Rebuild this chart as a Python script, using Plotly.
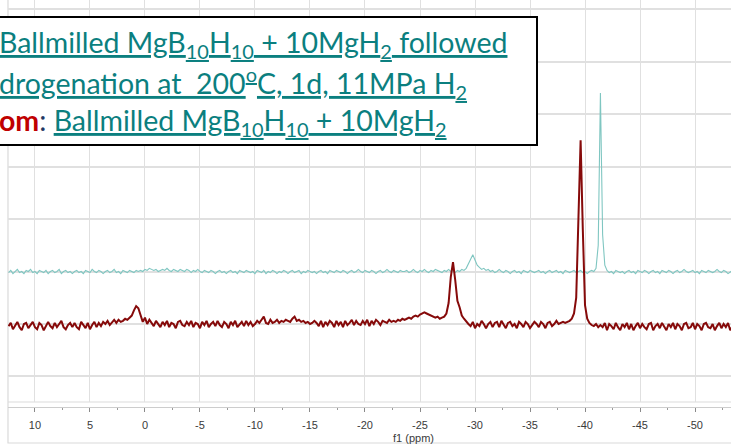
import numpy as np
import plotly.graph_objects as go

# Chemical-shift axis: samples every 0.2 ppm from 12.4 down to -53.4 ppm
ppm = np.round(np.arange(330) * -0.2 + 12.4, 2)

# Top spectrum (after hydrogenation), arbitrary intensity units
top_spectrum = [
    99, 101, 98, 100, 102, 99, 100, 98, 101, 100,
    102, 99, 100, 98, 101, 100, 99, 101, 98, 100,
    101, 99, 100, 102, 98, 100, 101, 99, 100, 98,
    100, 101, 99, 100, 98, 101, 100, 99, 102, 100,
    99, 101, 100, 98, 100, 101, 99, 100, 102, 99,
    100, 98, 101, 100, 99, 101, 100, 99, 101, 100,
    101, 100, 102, 101, 103, 102, 101, 102, 100, 101,
    102, 101, 103, 101, 100, 102, 101, 100, 102, 101,
    100, 102, 101, 99, 101, 100, 102, 100, 99, 101,
    100, 99, 101, 100, 98, 100, 101, 99, 100, 98,
    100, 101, 99, 100, 98, 101, 100, 99, 101, 100,
    99, 100, 98, 101, 100, 99, 101, 98, 100, 99,
    101, 100, 98, 100, 99, 101, 100, 98, 100, 101,
    99, 100, 101, 98, 100, 99, 101, 100, 99, 100,
    98, 100, 101, 99, 100, 98, 101, 100, 99, 101,
    100, 99, 101, 100, 98, 100, 101, 99, 100, 102,
    100, 99, 101, 100, 99, 101, 100, 98, 100, 101,
    99, 100, 102, 100, 99, 101, 100, 99, 101, 100,
    100, 101, 99, 100, 102, 100, 99, 101, 100, 102,
    100, 99, 101, 100, 102, 101, 100, 99, 101, 100,
    102, 100, 101, 99, 101, 100, 102, 101, 103, 107,
    112, 116, 111, 106, 104, 102, 103, 101, 102, 100,
    101, 99, 100, 102, 100, 99, 101, 100, 98, 100,
    101, 99, 100, 98, 101, 100, 99, 101, 100, 99,
    100, 101, 99, 100, 98, 100, 101, 99, 100, 101,
    99, 100, 98, 101, 100, 99, 100, 101, 99, 100,
    101, 99, 100, 98, 100, 101, 100, 103, 125, 270,
    135, 106, 101, 99, 100, 98, 101, 100, 99, 100,
    98, 100, 101, 99, 100, 98, 101, 100, 99, 101,
    100, 98, 100, 101, 99, 100, 98, 101, 100, 99,
    101, 100, 98, 100, 101, 99, 100, 102, 100, 99,
    100, 101, 99, 100, 98, 101, 100, 99, 101, 100,
    99, 100, 102, 100, 99, 101, 100, 98, 100, 101,
]

# Bottom spectrum (as ball-milled), arbitrary intensity units
bottom_spectrum = [
    48, 51, 45, 49, 52, 47, 44, 50, 51, 46,
    49, 52, 47, 45, 51, 49, 44, 48, 52, 48,
    46, 51, 47, 50, 53, 47, 45, 49, 51, 47,
    51, 47, 45, 52, 49, 46, 51, 45, 49, 52,
    47, 51, 48, 52, 50, 53, 49, 52, 54, 51,
    54, 52, 53, 55, 54, 56, 58, 63, 67, 65,
    58, 52, 56, 50, 54, 51, 48, 53, 50, 47,
    52, 49, 53, 47, 51, 50, 46, 52, 53, 49,
    48, 52, 49, 53, 47, 51, 50, 46, 52, 49,
    53, 47, 50, 52, 48, 53, 49, 47, 52, 50,
    46, 52, 49, 53, 47, 50, 52, 48, 53, 49,
    52, 48, 50, 53, 51, 54, 57, 51, 50, 54,
    51, 52, 54, 51, 53, 52, 54, 53, 52, 55,
    57, 53, 54, 52, 53, 51, 52, 50, 51, 53,
    51, 48, 53, 47, 52, 49, 53, 51, 47, 53,
    49, 52, 47, 53, 49, 51, 54, 49, 53, 50,
    49, 53, 50, 54, 48, 53, 50, 54, 52, 49,
    53, 52, 51, 54, 52, 53, 52, 54, 53, 55,
    54, 55, 56, 55, 57, 58, 57, 59, 60, 61,
    60, 59, 58, 57, 56, 57, 55, 56, 57, 60,
    70, 95, 109, 92, 72, 66, 58, 55, 52, 50,
    48, 52, 46, 50, 48, 53, 50, 46, 50, 52,
    47, 51, 52, 47, 53, 50, 46, 51, 52, 48,
    50, 46, 52, 50, 47, 52, 50, 46, 49, 52,
    50, 47, 52, 50, 46, 51, 52, 48, 50, 53,
    50, 51, 52, 51, 52, 53, 55, 60, 75, 150,
    225, 140, 68, 55, 51, 49, 48, 50, 47, 49,
    47, 51, 44, 50, 48, 45, 51, 47, 44, 50,
    47, 51, 45, 50, 44, 48, 51, 46, 50, 47,
    45, 50, 51, 44, 48, 50, 46, 51, 47, 44,
    50, 47, 51, 45, 50, 48, 44, 50, 51, 46,
    47, 51, 45, 50, 48, 44, 50, 51, 47, 46,
    50, 44, 48, 51, 46, 50, 47, 51, 44, 48,
]

# Axis tick labels (ppm)
tick_values = [10, 5, 0, -5, -10, -15, -20, -25, -30, -35, -40, -45, -50]
tick_labels = [str(v) for v in tick_values]

# Caption lines
caption_lines = [
    "<u>Ballmilled MgB<sub>10</sub>H<sub>10</sub> + 10MgH<sub>2</sub> followed</u>",
    "<u>drogenation at\u00a0 200<sup>o</sup>C, 1d, 11MPa H<sub>2</sub></u>",
    "<span style='color:#c00000'><b>om</b></span><span style='color:#1f3864'>: </span>"
    "<u>Ballmilled MgB<sub>10</sub>H<sub>10</sub> + 10MgH<sub>2</sub></u>",
]

W, H = 731, 448
LEFT, BOTTOM = 8, 41
plot_w = W - LEFT
plot_h = H - BOTTOM


def px_x(px):
    return (px - LEFT) / plot_w


def px_y(py):
    return (plot_h - py) / plot_h


grid_color = "#e0e0e0"

fig = go.Figure()
fig.add_trace(go.Scatter(
    x=ppm, y=top_spectrum, mode="lines",
    line=dict(color="#7fc6c1", width=1.1), hoverinfo="skip",
))
fig.add_trace(go.Scatter(
    x=ppm, y=bottom_spectrum, mode="lines",
    line=dict(color="#860a0a", width=2.0), hoverinfo="skip",
))

fig.update_layout(
    width=W, height=H,
    margin=dict(l=LEFT, r=0, t=0, b=BOTTOM, pad=0),
    paper_bgcolor="white", plot_bgcolor="white",
    showlegend=False,
    xaxis=dict(
        range=[12.45, -53.27], anchor="free", position=0,
        showgrid=True, gridcolor=grid_color, gridwidth=1.3,
        tickmode="array", tickvals=tick_values, ticktext=tick_labels,
        ticks="outside", ticklen=4, tickcolor="#8a8a8a", tickwidth=1,
        showline=True, linecolor="#cdcdcd", linewidth=1.2,
        zeroline=False,
        tickfont=dict(family="Liberation Sans", size=11, color="#3a3a3a"),
        ticklabelstandoff=4,
        minor=dict(ticks="outside", ticklen=2, tickcolor="#9a9a9a",
                   dtick=2.5, tick0=0, showgrid=False),
    ),
    yaxis=dict(
        range=[-24.3, 358.6], domain=[px_y(402), 1],
        showgrid=True, gridcolor=grid_color, gridwidth=1.5,
        dtick=50, tick0=0,
        showticklabels=False, ticks="", zeroline=False, showline=False,
    ),
)

shapes = [
    # lower edge of the spectrum pane
    dict(type="line", xref="paper", yref="y domain", x0=0, x1=1, y0=0, y1=0,
         line=dict(color="#dcdcdc", width=1.2), layer="below"),
    # outer frame of the spectrum window
    dict(type="rect", xref="paper", yref="paper",
         x0=0, x1=1.05, y0=px_y(443), y1=1.05,
         line=dict(color="#dadada", width=1.2), layer="below"),
    # caption box
    dict(type="rect", xref="paper", yref="paper",
         x0=px_x(-6), x1=px_x(537), y0=px_y(145), y1=px_y(17),
         line=dict(color="black", width=2), fillcolor="white", layer="above"),
]
fig.update_layout(shapes=shapes)

caption_centres = [44, 83, 122]
for text, cy in zip(caption_lines, caption_centres):
    fig.add_annotation(
        text=text, xref="paper", yref="paper",
        x=px_x(-3), y=px_y(cy), xanchor="left", yanchor="middle",
        showarrow=False, align="left",
        font=dict(family="Lato", size=28.5, color="#0b7f7f"),
    )

fig.add_annotation(
    text="f1 (ppm)", xref="paper", yref="paper",
    x=px_x(413), y=px_y(438), xanchor="center", yanchor="middle",
    showarrow=False, font=dict(family="Liberation Sans", size=11, color="#3a3a3a"),
)

fig.write_html("out.html")
